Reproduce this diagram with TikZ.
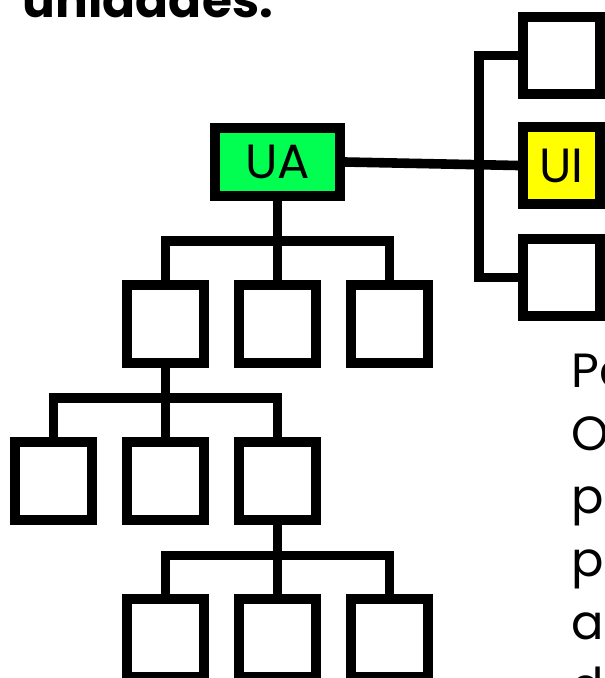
\documentclass[tikz,border=0pt]{standalone}
\usepackage{fontspec}
\setmainfont{Poppins}
\definecolor{uagreen}{RGB}{0,255,80}
\definecolor{uiyellow}{RGB}{255,255,0}
\begin{document}
\begin{tikzpicture}[x=0.75pt,y=-0.75pt,
  line width=7.4pt,
  box/.style={draw=black, fill=white, inner sep=0pt, minimum width=57.75pt, minimum height=58pt},
  conn/.style={draw=black, line width=7.2pt},
  lbl/.style={inner sep=0pt, font=\fontsize{36pt}{47pt}\selectfont},
  bodytxt/.style={inner sep=0pt, anchor=base west, font=\fontsize{36pt}{47pt}\selectfont},
]
\useasboundingbox (0,0) rectangle (605,678);
\clip (0,0) rectangle (605,678);
% heading
\node[inner sep=0pt, anchor=base west, font=\fontsize{36.5pt}{44pt}\selectfont\bfseries] (head) at (18,17) {unidades.};
% body text (cut at the right)
\node[bodytxt] (t1) at (567,387) {Pa};
\node[bodytxt] (t2) at (567,450) {O};
\node[bodytxt] (t3) at (567,513) {po};
\node[bodytxt] (t4) at (567,576) {po};
\node[bodytxt] (t5) at (567,639) {at};
\node[bodytxt] (t6) at (567,702) {d};
% nodes
\node[box, fill=uagreen, minimum width=93.75pt, minimum height=51pt, lbl] (UA) at (277.5,162) {UA};
\node[box] (a1) at (165.5,324) {};
\node[box] (a2) at (277.5,324) {};
\node[box] (a3) at (389.5,324) {};
\node[box] (b1) at (53.5,481) {};
\node[box] (b2) at (165.5,481) {};
\node[box] (b3) at (277.5,481) {};
\node[box] (c1) at (165.5,638) {};
\node[box] (c2) at (277.5,638) {};
\node[box] (c3) at (389.5,638) {};
\node[box] (R1) at (561.5,55.5) {};
\node[box, fill=uiyellow, lbl] (UI) at (561.5,165.5) {UI};
\node[box] (R3) at (561.5,277.5) {};
% junction coordinates
\coordinate (j1) at (277.5,241);
\coordinate (j2) at (165.5,398);
\coordinate (j3) at (277.5,555.5);
\coordinate (tk) at (479,0);
% connectors
\draw[conn] (UA.south) -- (j1);
\draw[conn] (a1.north) |- (j1) -| (a3.north);
\draw[conn] (j1) -- (a2.north);
\draw[conn] (a1.south) -- (j2);
\draw[conn] (b1.north) |- (j2) -| (b3.north);
\draw[conn] (j2) -- (b2.north);
\draw[conn] (b3.south) -- (j3);
\draw[conn] (c1.north) |- (j3) -| (c3.north);
\draw[conn] (j3) -- (c2.north);
\draw[conn] (R1.west) -- (R1.west -| tk) -- (R3.west -| tk) -- (R3.west);
\draw[conn] (UA.east) -- (UI.west);
\end{tikzpicture}
\end{document}
